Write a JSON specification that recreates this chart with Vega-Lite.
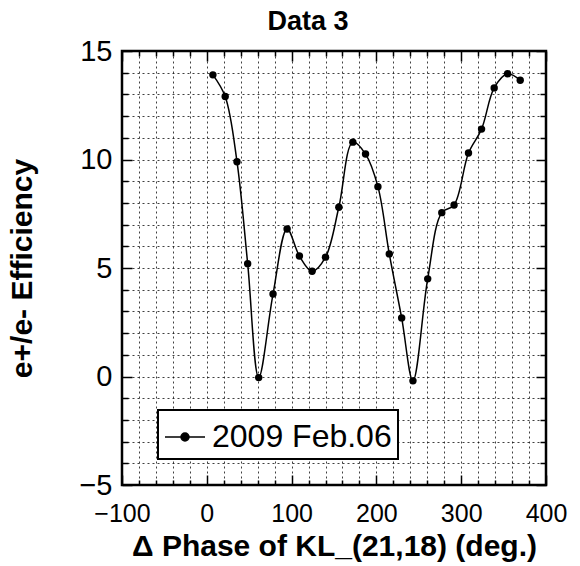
{
  "$schema": "https://vega.github.io/schema/vega-lite/v6.json",
  "autosize": "none",
  "width": 424,
  "height": 434,
  "padding": {"left": 122, "top": 51, "right": 34, "bottom": 81},
  "background": "white",
  "config": {
    "font": "Liberation Sans",
    "view": {"stroke": "black", "strokeWidth": 2.5}
  },
  "title": {
    "text": "Data 3",
    "fontSize": 27,
    "fontWeight": "bold",
    "font": "Liberation Sans",
    "color": "black",
    "dx": -26,
    "offset": 1
  },
  "data": {
    "values": [
      {"phase": 7.2, "eff": 13.9, "series": "2009 Feb.06"},
      {"phase": 21.7, "eff": 12.9, "series": "2009 Feb.06"},
      {"phase": 35.6, "eff": 9.9, "series": "2009 Feb.06"},
      {"phase": 48.2, "eff": 5.2, "series": "2009 Feb.06"},
      {"phase": 61.2, "eff": -0.05, "series": "2009 Feb.06"},
      {"phase": 78.1, "eff": 3.8, "series": "2009 Feb.06"},
      {"phase": 94.7, "eff": 6.8, "series": "2009 Feb.06"},
      {"phase": 109.2, "eff": 5.55, "series": "2009 Feb.06"},
      {"phase": 124.2, "eff": 4.85, "series": "2009 Feb.06"},
      {"phase": 140.0, "eff": 5.5, "series": "2009 Feb.06"},
      {"phase": 155.7, "eff": 7.8, "series": "2009 Feb.06"},
      {"phase": 172.2, "eff": 10.8, "series": "2009 Feb.06"},
      {"phase": 187.2, "eff": 10.25, "series": "2009 Feb.06"},
      {"phase": 201.8, "eff": 8.75, "series": "2009 Feb.06"},
      {"phase": 215.2, "eff": 5.65, "series": "2009 Feb.06"},
      {"phase": 229.8, "eff": 2.7, "series": "2009 Feb.06"},
      {"phase": 243.1, "eff": -0.2, "series": "2009 Feb.06"},
      {"phase": 260.5, "eff": 4.5, "series": "2009 Feb.06"},
      {"phase": 277.1, "eff": 7.55, "series": "2009 Feb.06"},
      {"phase": 291.6, "eff": 7.9, "series": "2009 Feb.06"},
      {"phase": 308.6, "eff": 10.3, "series": "2009 Feb.06"},
      {"phase": 324.0, "eff": 11.4, "series": "2009 Feb.06"},
      {"phase": 338.9, "eff": 13.3, "series": "2009 Feb.06"},
      {"phase": 354.7, "eff": 13.95, "series": "2009 Feb.06"},
      {"phase": 369.6, "eff": 13.65, "series": "2009 Feb.06"}
    ]
  },
  "resolve": {"axis": {"x": "independent", "y": "independent"}},
  "layer": [
    {
      "mark": {
        "type": "line",
        "interpolate": "catmull-rom",
        "strokeWidth": 1.5,
        "point": {"filled": true, "size": 55, "color": "black", "opacity": 1}
      },
      "encoding": {
        "x": {
          "field": "phase",
          "type": "quantitative",
          "scale": {"domain": [-100, 400], "nice": false, "zero": false},
          "axis": {
            "orient": "bottom",
            "title": "\u0394 Phase of KL_(21,18) (deg.)",
            "titleFontSize": 30,
            "titleFontWeight": "bold",
            "titleColor": "black",
            "titlePadding": 0,
            "values": [-100, -80, -60, -40, -20, 0, 20, 40, 60, 80, 100, 120, 140, 160, 180, 200, 220, 240, 260, 280, 300, 320, 340, 360, 380, 400],
            "labelExpr": "datum.value % 100 === 0 ? datum.label : ''",
            "labelFontSize": 25,
            "labelColor": "black",
            "labelPadding": 26,
            "labelFlush": false,
            "labelOverlap": false,
            "domain": false,
            "ticks": true,
            "tickColor": "black",
            "tickWidth": 1.5,
            "tickSize": {"condition": {"test": "datum.value % 100 === 0", "value": -10}, "value": -5},
            "grid": true,
            "gridColor": "black",
            "gridDash": [2, 3],
            "gridWidth": 1,
            "gridOpacity": 0.75
          }
        },
        "y": {
          "field": "eff",
          "type": "quantitative",
          "scale": {"domain": [-5, 15], "nice": false, "zero": false},
          "axis": {
            "orient": "left",
            "title": "e+/e- Efficiency",
            "titleFontSize": 30,
            "titleFontWeight": "bold",
            "titleColor": "black",
            "titlePadding": 41,
            "values": [-5, -4, -3, -2, -1, 0, 1, 2, 3, 4, 5, 6, 7, 8, 9, 10, 11, 12, 13, 14, 15],
            "labelExpr": "datum.value % 5 === 0 ? datum.label : ''",
            "labelFontSize": 29,
            "labelColor": "black",
            "labelPadding": 20,
            "labelFlush": false,
            "labelOverlap": false,
            "domain": false,
            "ticks": true,
            "tickColor": "black",
            "tickWidth": 1.5,
            "tickSize": {"condition": {"test": "datum.value % 5 === 0", "value": -10}, "value": -6},
            "grid": true,
            "gridColor": "black",
            "gridDash": [2, 3],
            "gridWidth": 1,
            "gridOpacity": 0.75
          }
        },
        "color": {
          "field": "series",
          "type": "nominal",
          "scale": {"range": ["black"]},
          "legend": {
            "orient": "none",
            "legendX": 36,
            "legendY": 359,
            "title": null,
            "labelFontSize": 32,
            "labelColor": "black",
            "labelLimit": 400,
            "labelOffset": 6,
            "symbolType": "M-1,0L1,0M0.2,0A0.2,0.2,0,1,1,-0.2,0A0.2,0.2,0,1,1,0.2,0Z",
            "symbolSize": 1600,
            "symbolFillColor": "black",
            "symbolStrokeColor": "black",
            "symbolStrokeWidth": 1.5,
            "strokeColor": "black",
            "fillColor": "white",
            "padding": 6,
            "encode": {"legend": {"update": {"strokeWidth": {"value": 2}}}}
          }
        }
      }
    },
    {
      "mark": {"type": "point", "opacity": 0},
      "encoding": {
        "x": {
          "field": "phase",
          "type": "quantitative",
          "axis": {
            "orient": "top",
            "title": null,
            "labels": false,
            "domain": false,
            "grid": false,
            "values": [-100, -80, -60, -40, -20, 0, 20, 40, 60, 80, 100, 120, 140, 160, 180, 200, 220, 240, 260, 280, 300, 320, 340, 360, 380, 400],
            "tickColor": "black",
            "tickWidth": 1.5,
            "tickSize": {"condition": {"test": "datum.value % 100 === 0", "value": -10}, "value": -5}
          }
        },
        "y": {
          "field": "eff",
          "type": "quantitative",
          "axis": {
            "orient": "right",
            "title": null,
            "labels": false,
            "domain": false,
            "grid": false,
            "values": [-5, -4, -3, -2, -1, 0, 1, 2, 3, 4, 5, 6, 7, 8, 9, 10, 11, 12, 13, 14, 15],
            "tickColor": "black",
            "tickWidth": 1.5,
            "tickSize": {"condition": {"test": "datum.value % 5 === 0", "value": -10}, "value": -6}
          }
        }
      }
    }
  ]
}
